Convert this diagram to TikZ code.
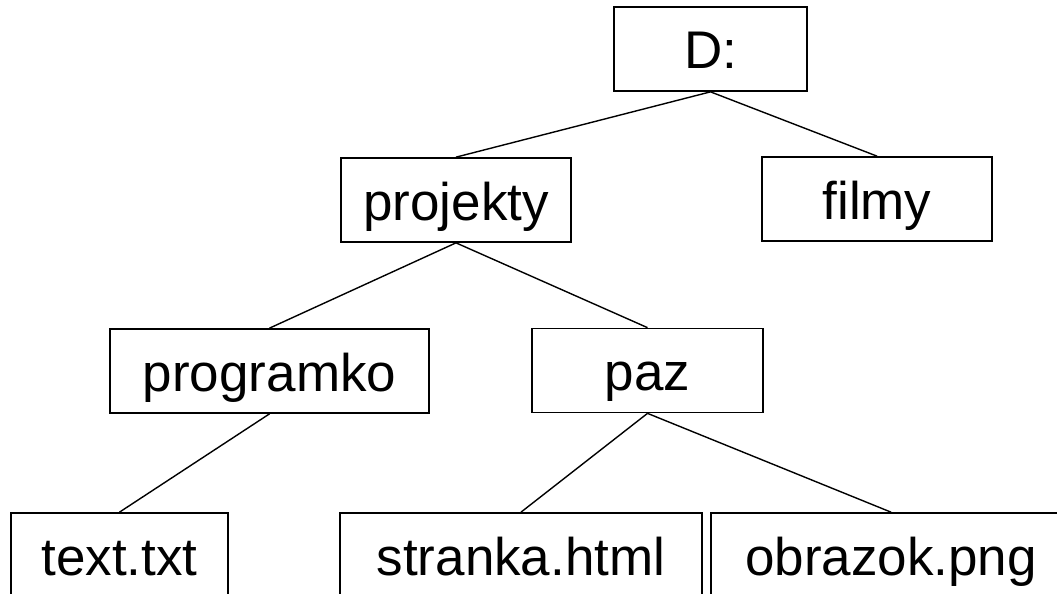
\documentclass[tikz,border=0pt]{standalone}
\usepackage{fontspec}
\setmainfont{Liberation Sans}
\begin{document}
\begin{tikzpicture}[x=1pt,y=-1pt,
  dirbox/.style={draw=black,line width=1.7pt,minimum height=84pt,inner sep=0pt,
    text height=40pt,text depth=0pt,font=\fontsize{53}{60}\selectfont},
  link/.style={draw=black,line width=1.4pt}]
\clip (0,0) rectangle (1057,594);
\fill[white] (0,0) rectangle (1057,594);
\node[dirbox,minimum width=193pt] (d) at (710.5,49) {D:};
\node[dirbox,minimum width=230pt] (proj) at (456,200) {projekty};
\node[dirbox,minimum width=230pt] (film) at (877,199) {filmy};
\node[dirbox,minimum width=319pt] (prog) at (269.5,371) {programko};
\node[dirbox,minimum width=231pt] (paz) at (647.5,370.5) {paz};
\node[dirbox,minimum width=217pt] (txt) at (119.5,555) {text.txt};
\node[dirbox,minimum width=362pt] (str) at (521,555) {stranka.html};
\node[dirbox,minimum width=360pt] (obr) at (891,555) {obrazok.png};
\draw[link] (d.south) -- (proj.north);
\draw[link] (d.south) -- (film.north);
\draw[link] (proj.south) -- (prog.north);
\draw[link] (proj.south) -- (paz.north);
\draw[link] (prog.south) -- (txt.north);
\draw[link] (paz.south) -- (str.north);
\draw[link] (paz.south) -- (obr.north);
\end{tikzpicture}
\end{document}
